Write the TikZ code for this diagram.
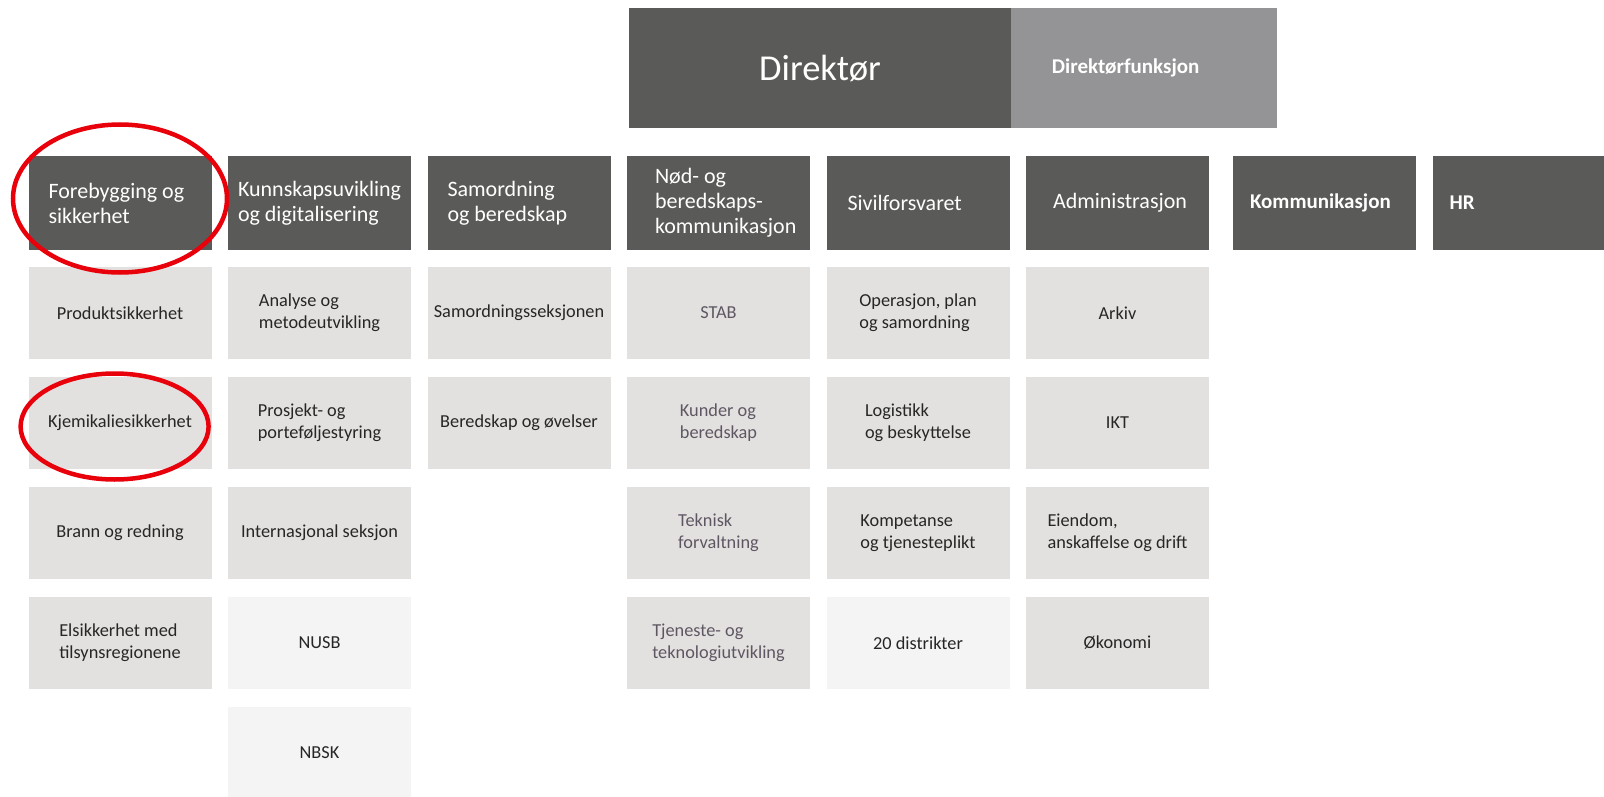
\documentclass[tikz,border=0pt]{standalone}
\usepackage{fontspec}
\setmainfont{Carlito}
\usepackage{xcolor}
\usetikzlibrary{positioning}
\definecolor{headgrey}{HTML}{5A5A58}
\definecolor{fungrey}{HTML}{949497}
\definecolor{unitgrey}{HTML}{E3E1DF}
\definecolor{palegrey}{HTML}{F4F4F4}
\definecolor{unittext}{HTML}{262626}
\definecolor{stabtext}{HTML}{5E5763}
\definecolor{ringred}{HTML}{E8000B}

\begin{document}
\begin{tikzpicture}[x=1pt, y=-1pt, node distance=110pt and 199.5pt, on grid,
  box/.style={rectangle, inner sep=0pt, minimum width=183pt, minimum height=92pt},
  head/.style={box, minimum height=93pt, fill=headgrey, text=white, align=flush left, text width=143pt, font=\fontsize{22}{25}\selectfont},
  unit/.style={box, fill=unitgrey, text=unittext, align=flush left, font=\fontsize{18.3}{22}\selectfont},
  pale/.style={unit, fill=palegrey},
  stab/.style={unit, text=stabtext},
  ring/.style={draw=ringred, line width=4.5pt}]
\useasboundingbox (0,0) rectangle (1604,797);
\node[rectangle, fill=headgrey, text=white, minimum width=382pt, minimum height=120pt, font=\fontsize{36.5}{40}\selectfont] (d_0) at (820,68) {Direktør};
\node[rectangle, fill=fungrey, text=white, minimum width=266pt, minimum height=120pt, inner sep=0pt, align=flush left, text width=185pt, font=\bfseries\fontsize{21}{24}\selectfont, anchor=west] (d_1) at (d_0.east) {Direktørfunksjon};

\node[head] (h_1) at (120,203) {Forebygging og\\sikkerhet};
\node[head, text width=163pt] (h_2) [right=of h_1] {Kunnskapsuvikling\\og digitalisering};
\node[head] (h_3) [right=of h_2] {Samordning\\og beredskap};
\node[head, text width=127pt] (h_4) [right=of h_3] {Nød- og\\beredskaps-\\kommunikasjon};
\node[head, text width=141pt] (h_5) [right=of h_4] {Sivilforsvaret};
\node[head, text width=129pt] (h_6) [right=of h_5] {Administrasjon};
\node[head, text width=149pt, font=\bfseries\fontsize{21}{24}\selectfont] (h_7) [right=207pt of h_6] {Kommunikasjon};
\node[head, text width=149pt, font=\bfseries\fontsize{21}{24}\selectfont] (h_8) [right=of h_7] {HR};

\node[unit] (u_11) [below=of h_1] {Produktsikkerhet};
\node[unit] (u_12) [below=of u_11] {Kjemikaliesikkerhet};
\node[unit] (u_13) [below=of u_12] {Brann og redning};
\node[unit] (u_14) [below=of u_13] {Elsikkerhet med\\tilsynsregionene};

\node[unit] (u_21) [below=of h_2] {Analyse og\\metodeutvikling};
\node[unit] (u_22) [below=of u_21] {Prosjekt- og\\porteføljestyring};
\node[unit] (u_23) [below=of u_22] {Internasjonal seksjon};
\node[pale] (u_24) [below=of u_23] {NUSB};
\node[pale] (u_25) [below=of u_24] {NBSK};

\node[unit] (u_31) [below=of h_3] {Samordningsseksjonen};
\node[unit] (u_32) [below=of u_31] {Beredskap og øvelser};

\node[stab] (u_41) [below=of h_4] {STAB};
\node[stab] (u_42) [below=of u_41] {Kunder og\\beredskap};
\node[stab] (u_43) [below=of u_42] {Teknisk\\forvaltning};
\node[stab] (u_44) [below=of u_43] {Tjeneste- og\\teknologiutvikling};

\node[unit] (u_51) [below=of h_5] {Operasjon, plan\\og samordning};
\node[unit] (u_52) [below=of u_51] {Logistikk\\og beskyttelse};
\node[unit] (u_53) [below=of u_52] {Kompetanse\\og tjenesteplikt};
\node[pale] (u_54) [below=of u_53] {20 distrikter};

\node[unit] (u_61) [below=of h_6] {Arkiv};
\node[unit] (u_62) [below=of u_61] {IKT};
\node[unit] (u_63) [below=of u_62] {Eiendom,\\anskaffelse og drift};
\node[unit] (u_64) [below=of u_63] {Økonomi};

\draw[ring] ([yshift=4.5pt]h_1.center) ellipse [x radius=107pt, y radius=74pt];
\draw[ring] ([xshift=-5.4pt, yshift=-3.5pt]u_12.center) ellipse [x radius=94pt, y radius=53pt];
\end{tikzpicture}
\end{document}
